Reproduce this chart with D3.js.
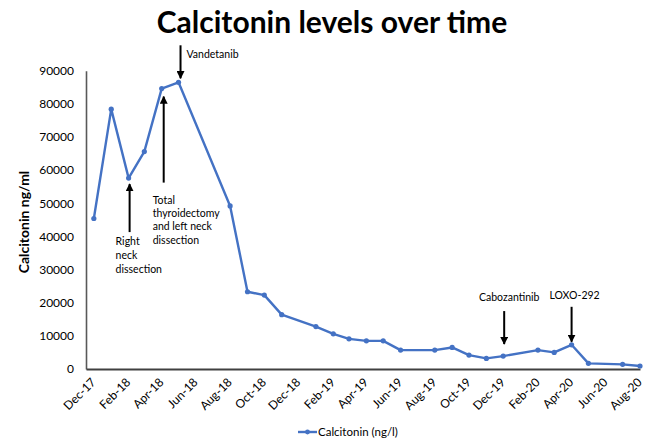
<!DOCTYPE html>
<html lang="en">
<head>
<meta charset="utf-8">
<title>Calcitonin levels over time</title>
<script src="https://d3js.org/d3.v7.min.js"></script>
<style>
  body { margin: 0; background: #fff; }
  svg text { font-family: Lato, "Open Sans", sans-serif; fill: #000; }
</style>
</head>
<body>
<div id="chart"></div>
<script>
  // calcitonin readings (ng/l), one per visit
  var visitDates = ["2017-12-15","2018-01-15","2018-02-15","2018-03-15","2018-04-15","2018-05-15",
    "2018-08-15","2018-09-15","2018-10-15","2018-11-15","2019-01-15","2019-02-15","2019-03-15",
    "2019-04-15","2019-05-15","2019-06-15","2019-08-15","2019-09-15","2019-10-15","2019-11-15",
    "2019-12-15","2020-02-15","2020-03-15","2020-04-15","2020-05-15","2020-07-15","2020-08-15"];
  var calcitonin = [45400,78400,57600,65600,84600,86500,49200,23300,22300,16400,12800,10600,9100,
    8500,8500,5700,5700,6500,4200,3200,3900,5700,5000,7300,1700,1400,900];
  var yTicks = [0,10000,20000,30000,40000,50000,60000,70000,80000,90000];
  var xTicks = ["2017-12-01","2018-02-01","2018-04-01","2018-06-01","2018-08-01","2018-10-01",
    "2018-12-01","2019-02-01","2019-04-01","2019-06-01","2019-08-01","2019-10-01","2019-12-01",
    "2020-02-01","2020-04-01","2020-06-01","2020-08-01"];

  // treatment events
  var eventDates = ["2018-02-15","2018-04-15","2018-05-15","2019-12-15","2020-04-15"];
  var eventLabels = [["Right","neck","dissection"],
    ["Total","thyroidectomy","and left neck","dissection"],
    ["Vandetanib"],["Cabozantinib"],["LOXO-292"]];

  var W = 651, H = 440;
  var parse = d3.timeParse("%Y-%m-%d");
  var data = visitDates.map(function(d, i){ return {date: parse(d), value: calcitonin[i]}; });

  var svg = d3.select("#chart").append("svg")
    .attr("width", W).attr("height", H);

  var x = d3.scaleTime()
    .domain([parse("2017-12-01"), parse("2020-08-15")])
    .range([86, 640]);
  var y = d3.scaleLinear().domain([0, 90000]).range([369, 70.7]);

  var blue = "#4472C4";

  // title
  svg.append("text")
    .attr("x", 332).attr("y", 33)
    .attr("text-anchor", "middle")
    .style("font-size", "30px").style("font-weight", "bold")
    .text("Calcitonin levels over time");

  // y axis
  var yAxis = svg.append("g").attr("transform", "translate(86,0)")
    .call(d3.axisLeft(y).tickValues(yTicks).tickSize(0).tickPadding(12).tickFormat(d3.format("d")));
  yAxis.select(".domain").attr("stroke", "#595959").attr("stroke-width", 1.6);
  yAxis.selectAll("text").style("font-size", "12px").style("font-family", "Lato, sans-serif");

  // x axis
  var xAxis = svg.append("g").attr("transform", "translate(0,369)")
    .call(d3.axisBottom(x).tickValues(xTicks.map(parse)).tickSize(0).tickFormat(d3.timeFormat("%b-%y")));
  xAxis.select(".domain").attr("stroke", "#404040").attr("stroke-width", 1.8);
  xAxis.selectAll("text")
    .attr("y", 0).attr("dy", "0.35em")
    .attr("transform", "translate(7,11) rotate(-45)")
    .attr("text-anchor", "end")
    .style("font-size", "12px").style("font-family", "Lato, sans-serif");

  // axis title
  svg.append("text")
    .attr("transform", "translate(29,222) rotate(-90)")
    .attr("text-anchor", "middle")
    .style("font-size", "14px").style("font-weight", "bold")
    .text("Calcitonin ng/ml");

  // series
  var line = d3.line().x(function(d){ return x(d.date); }).y(function(d){ return y(d.value); });
  svg.append("path").datum(data)
    .attr("d", line)
    .attr("fill", "none").attr("stroke", blue).attr("stroke-width", 2.4)
    .attr("stroke-linejoin", "round");
  svg.selectAll(".pt").data(data).enter().append("circle")
    .attr("class", "pt")
    .attr("cx", function(d){ return x(d.date); })
    .attr("cy", function(d){ return y(d.value); })
    .attr("r", 2.6).attr("fill", blue);

  // arrows
  var defs = svg.append("defs");
  defs.append("marker").attr("id", "head")
    .attr("viewBox", "0 0 10 10").attr("refX", 9).attr("refY", 5)
    .attr("markerWidth", 4).attr("markerHeight", 4).attr("orient", "auto")
    .append("path").attr("d", "M0,0 L10,5 L0,10 z").attr("fill", "#000");

  function valueAt(ds) {
    var t = parse(ds).getTime();
    return data.find(function(d){ return d.date.getTime() === t; }).value;
  }
  function arrow(x0, y0, y1) {
    svg.append("line")
      .attr("x1", x0).attr("x2", x0).attr("y1", y0).attr("y2", y1)
      .attr("stroke", "#000").attr("stroke-width", 2)
      .attr("marker-end", "url(#head)");
  }
  function label(lines, tx, ty, anchor, step) {
    var t = svg.append("text").attr("text-anchor", anchor).style("font-size", "10.5px");
    lines.forEach(function(s, i){
      t.append("tspan").attr("x", tx).attr("y", ty + i * step).text(s);
    });
  }

  // right neck dissection: arrow points up at the dip
  var ex = x(parse(eventDates[0])), ey = y(valueAt(eventDates[0]));
  arrow(ex + 1, ey + 54, ey + 6);
  label(eventLabels[0], ex - 13, ey + 67, "start", 14);

  // total thyroidectomy
  ex = x(parse(eventDates[1])); ey = y(valueAt(eventDates[1]));
  arrow(ex + 2, ey + 94, ey + 8);
  label(eventLabels[1], ex - 9, ey + 115, "start", 13.4);

  // vandetanib: arrow points down on the peak
  ex = x(parse(eventDates[2])); ey = y(valueAt(eventDates[2]));
  arrow(ex + 2, ey - 37, ey - 4);
  label(eventLabels[2], ex + 8, ey - 24, "start", 12);

  // cabozantinib
  ex = x(parse(eventDates[3])); ey = y(valueAt(eventDates[3]));
  arrow(ex + 1, ey - 45, ey - 12);
  label(eventLabels[3], ex + 6, ey - 55, "middle", 12);

  // LOXO-292
  ex = x(parse(eventDates[4])); ey = y(valueAt(eventDates[4]));
  arrow(ex, ey - 38, ey - 3);
  label(eventLabels[4], ex + 3, ey - 46, "middle", 12);

  // legend
  var lg = svg.append("g").attr("transform", "translate(298,432)");
  lg.append("line").attr("x1", 0).attr("x2", 19).attr("y1", 0).attr("y2", 0)
    .attr("stroke", blue).attr("stroke-width", 2.4);
  lg.append("circle").attr("cx", 9.5).attr("cy", 0).attr("r", 2.4).attr("fill", blue);
  lg.append("text").attr("x", 20).attr("y", 4).style("font-size", "11.5px")
    .text("Calcitonin (ng/l)");
</script>
</body>
</html>
